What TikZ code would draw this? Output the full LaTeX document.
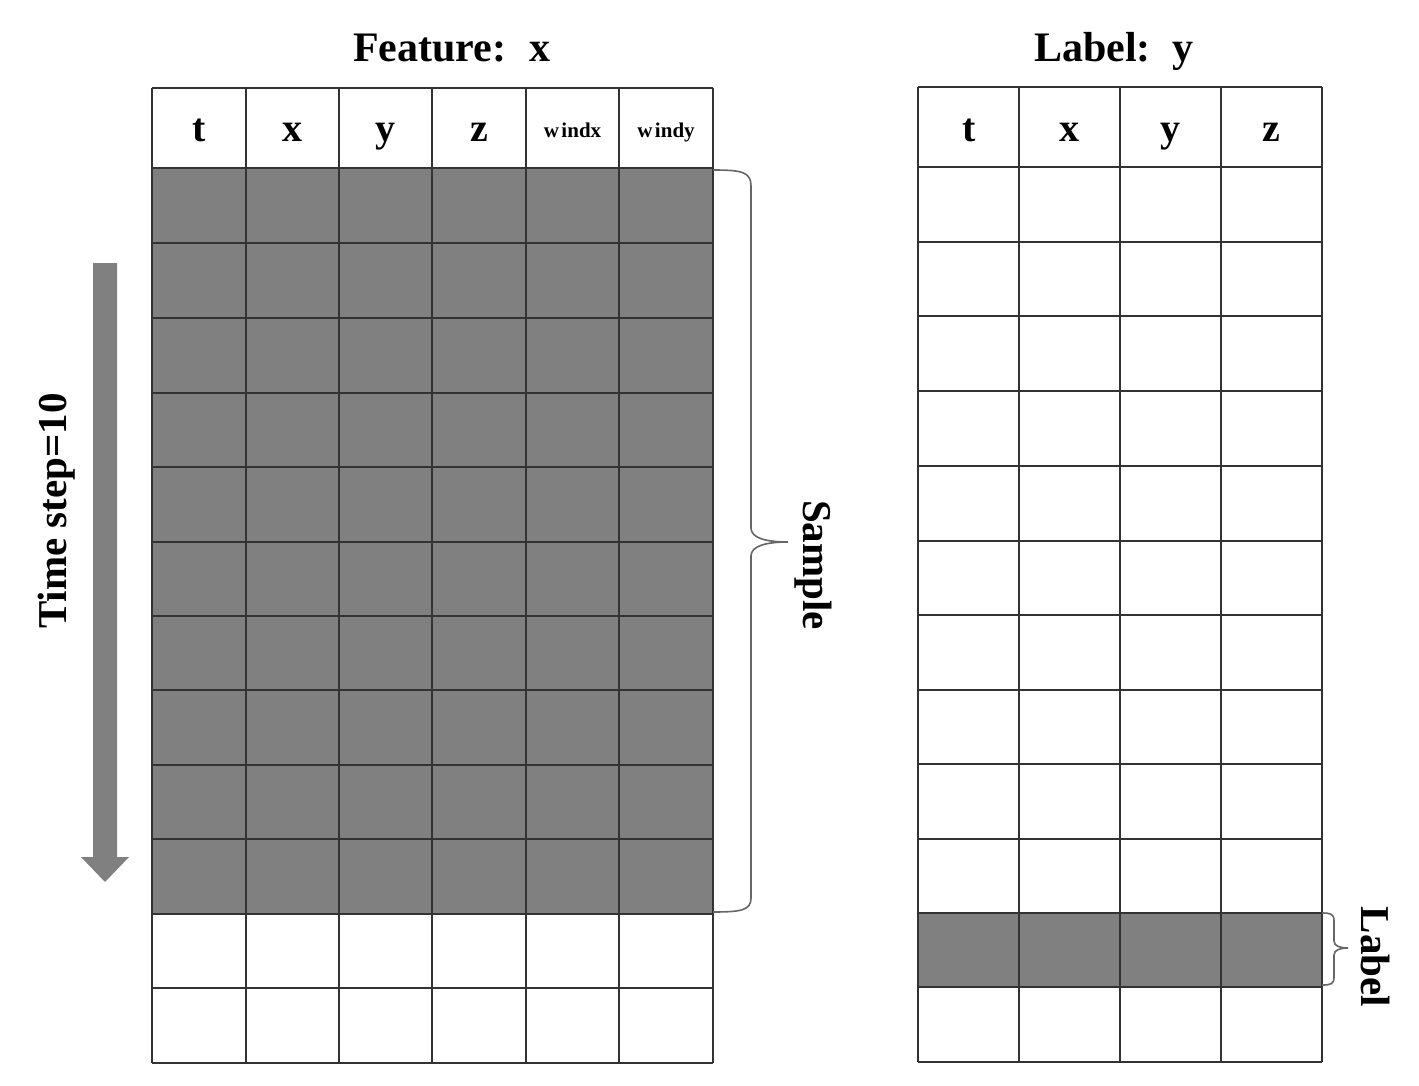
\documentclass[tikz,border=0pt]{standalone}
\usepackage{fontspec}
\setmainfont{Liberation Serif}
\begin{document}
\begin{tikzpicture}[x=1pt,y=-1pt,
  gridline/.style={draw=black!80, line width=1.7pt},
  shade/.style={fill=gray50},
  bracestyle/.style={draw=black!60, line width=1.6pt},
  titletext/.style={inner sep=0pt, anchor=base west, font=\fontsize{42}{48}\selectfont\bfseries},
  headtext/.style={inner sep=0pt, anchor=base, font=\fontsize{40}{46}\selectfont\bfseries},
  smallhead/.style={inner sep=0pt, anchor=base, font=\fontsize{21}{24}\selectfont\bfseries},
  sidetext/.style={inner sep=0pt, font=\fontsize{41}{46}\selectfont\bfseries}
]
\definecolor{gray50}{HTML}{808080}
\useasboundingbox (0,0) rectangle (1419,1086);

% ---------- Left table (Feature) ----------
% shaded rows 1..10
\fill[shade] (152,168) rectangle (713,914);
% vertical lines
\foreach \xx in {152,246,339,432,526,619,713}
  \draw[gridline] (\xx,88) -- (\xx,1063);
% horizontal lines
\foreach \yy in {88,168,243,318,393,467,542,616,690,765,839,914,988,1063}
  \draw[gridline] (152,\yy) -- (713,\yy);

% ---------- Right table (Label) ----------
\fill[shade] (918,913) rectangle (1322,987);
\foreach \xx in {918,1019,1120,1221,1322}
  \draw[gridline] (\xx,87) -- (\xx,1062);
\foreach \yy in {87,167,242,316,391,466,541,615,690,764,839,913,987,1062}
  \draw[gridline] (918,\yy) -- (1322,\yy);

% ---------- Titles ----------
\node[titletext] (ftitle) at (353,62) {Feature:\hspace{23pt}x};
\node[titletext] (ltitle) at (1034,62) {Label:\hspace{22pt}y};

% ---------- Header texts ----------
\node[headtext] (h1) at (199,142) {t};
\node[headtext] (h2) at (292.5,142) {x};
\node[headtext] (h3) at (385.5,142) {y};
\node[headtext] (h4) at (479,142) {z};
\node[smallhead] (h5) at (572.5,138) {w\kern2.5pt indx};
\node[smallhead] (h6) at (666,138) {w\kern2.5pt indy};

\node[headtext] (r1) at (969.5,142) {t};
\node[headtext] (r2) at (1069.5,142) {x};
\node[headtext] (r3) at (1170.5,142) {y};
\node[headtext] (r4) at (1271.5,142) {z};

% ---------- Time arrow ----------
\fill[gray50] (93,263) -- (117,263) -- (117,857) -- (129,857) -- (105,882)
  -- (81,857) -- (93,857) -- cycle;
\node[sidetext, rotate=90] (tstep) at (57,511) {Time step=10};

% ---------- Sample brace ----------
\coordinate (sb1) at (713,170);
\coordinate (sb2) at (713,912);
\coordinate (stip) at (788,542);
\draw[bracestyle] (sb1) .. controls (742,170) and (751,172) .. (751,186)
  -- (751,528) .. controls (751,538) and (766,542) .. (stip)
  .. controls (766,542) and (751,546) .. (751,556)
  -- (751,898) .. controls (751,910) and (742,912) .. (sb2);
\node[sidetext, rotate=-90] (sample) at (813,565) {Sample};

% ---------- Label brace ----------
\coordinate (lb1) at (1322,913);
\coordinate (lb2) at (1322,985);
\coordinate (ltip) at (1348,948);
\draw[bracestyle] (lb1) .. controls (1331,913) and (1334,914) .. (1334,921)
  -- (1334,941) .. controls (1334,946) and (1340,948) .. (ltip)
  .. controls (1340,948) and (1334,950) .. (1334,955)
  -- (1334,977) .. controls (1334,984) and (1331,985) .. (lb2);
\node[sidetext, rotate=-90] (label) at (1376,957) {Label};
\end{tikzpicture}
\end{document}
